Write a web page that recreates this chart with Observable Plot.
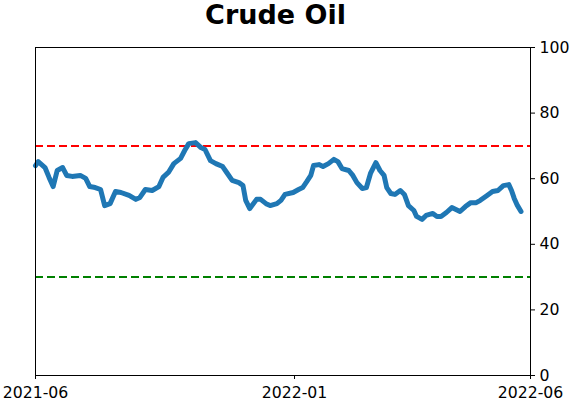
<!DOCTYPE html>
<html>
<head>
<meta charset="utf-8">
<script src="https://cdn.jsdelivr.net/npm/d3@7"></script>
<script src="https://cdn.jsdelivr.net/npm/@observablehq/plot@0.6"></script>
<style>
  body { margin: 0; background: #fff; font-family: "DejaVu Sans", sans-serif; }
  #title { height: 30px; width: 495px; margin-left: 28px; text-align: center; font-weight: bold; font-size: 27px; line-height: 30px; color: #000; }
</style>
</head>
<body>
<div id="title">Crude Oil</div>
<div id="chart"></div>
<script>
const dates = [
  "2021-06-24","2021-06-26","2021-07-01","2021-07-04","2021-07-07","2021-07-10","2021-07-14","2021-07-17",
  "2021-07-21","2021-07-27","2021-07-31","2021-08-03","2021-08-07","2021-08-11","2021-08-14","2021-08-18",
  "2021-08-22","2021-08-26","2021-09-01","2021-09-06","2021-09-09","2021-09-13","2021-09-18","2021-09-23",
  "2021-09-26","2021-09-30","2021-10-04","2021-10-09","2021-10-12","2021-10-15","2021-10-20","2021-10-24",
  "2021-10-27","2021-10-31","2021-11-04","2021-11-09","2021-11-12","2021-11-16","2021-11-21","2021-11-24",
  "2021-11-26","2021-11-29","2021-12-04","2021-12-07","2021-12-11","2021-12-14","2021-12-19","2021-12-22",
  "2021-12-25","2021-12-31","2022-01-04","2022-01-07","2022-01-10","2022-01-13","2022-01-15","2022-01-19",
  "2022-01-22","2022-01-26","2022-01-30","2022-02-02","2022-02-05","2022-02-10","2022-02-13","2022-02-16",
  "2022-02-20","2022-02-23","2022-02-26","2022-03-02","2022-03-05","2022-03-08","2022-03-10","2022-03-13",
  "2022-03-16","2022-03-20","2022-03-23","2022-03-26","2022-03-30","2022-04-01","2022-04-05","2022-04-08",
  "2022-04-13","2022-04-16","2022-04-19","2022-04-23","2022-04-27","2022-04-30","2022-05-03","2022-05-07",
  "2022-05-11","2022-05-15","2022-05-18","2022-05-23","2022-05-27","2022-05-31","2022-06-04","2022-06-08",
  "2022-06-10","2022-06-12","2022-06-14","2022-06-17"
];
const values = [
  64.0,65.2,63.4,60.4,57.6,62.5,63.4,61.0,
  60.7,61.0,60.1,57.6,57.3,56.7,51.8,52.4,
  56.1,55.8,54.9,53.7,54.3,56.7,56.4,57.6,
  60.4,61.9,64.6,66.2,68.6,70.7,71.0,69.5,
  68.9,65.5,64.6,63.7,61.9,59.5,58.8,57.9,
  53.4,50.9,53.7,53.7,52.4,51.8,52.4,53.4,
  55.2,55.8,56.7,57.3,59.1,61.0,64.0,64.3,
  63.7,64.6,65.9,65.2,63.1,62.5,61.0,58.8,
  57.0,57.3,61.6,64.9,62.5,61.0,57.3,55.5,
  55.2,56.4,55.2,51.8,50.3,48.5,47.6,48.8,
  49.4,48.5,48.5,49.7,51.2,50.6,50.0,51.5,
  52.7,52.7,53.4,54.9,56.1,56.4,57.9,58.2,
  56.4,54.0,52.1,50.0
];
const xTickDates = ["2021-06-24","2022-01-01","2022-06-24"];
const yTicks = [0,20,40,60,80,100];
const upperLevel = [70];
const lowerLevel = [30];

const parse = d3.utcParse("%Y-%m-%d");
const data = dates.map((d, i) => ({date: parse(d), value: values[i]}));
const xTicks = xTickDates.map(parse);

const chart = Plot.plot({
  width: 571,
  height: 372,
  marginTop: 17,
  marginBottom: 27,
  marginLeft: 35,
  marginRight: 41,
  style: {fontFamily: "DejaVu Sans, sans-serif", fontSize: "15.7px", color: "#000", background: "#fff"},
  x: {type: "utc", domain: [xTicks[0], xTicks[2]], ticks: xTicks, tickFormat: d3.utcFormat("%Y-%m"), tickSize: 4, tickPadding: 7, label: null},
  y: {domain: [0, 100], ticks: yTicks, axis: "right", tickSize: 4, tickPadding: 5, label: null},
  marks: [
    Plot.ruleY(upperLevel, {stroke: "red", strokeWidth: 2, strokeDasharray: "8,4"}),
    Plot.ruleY(lowerLevel, {stroke: "green", strokeWidth: 2, strokeDasharray: "8,4"}),
    Plot.line(data, {x: "date", y: "value", stroke: "#1f77b4", strokeWidth: 5, strokeLinejoin: "round", strokeLinecap: "round"}),
    Plot.frame({stroke: "#000", strokeWidth: 1})
  ]
});
document.getElementById("chart").appendChild(chart);
</script>
</body>
</html>
